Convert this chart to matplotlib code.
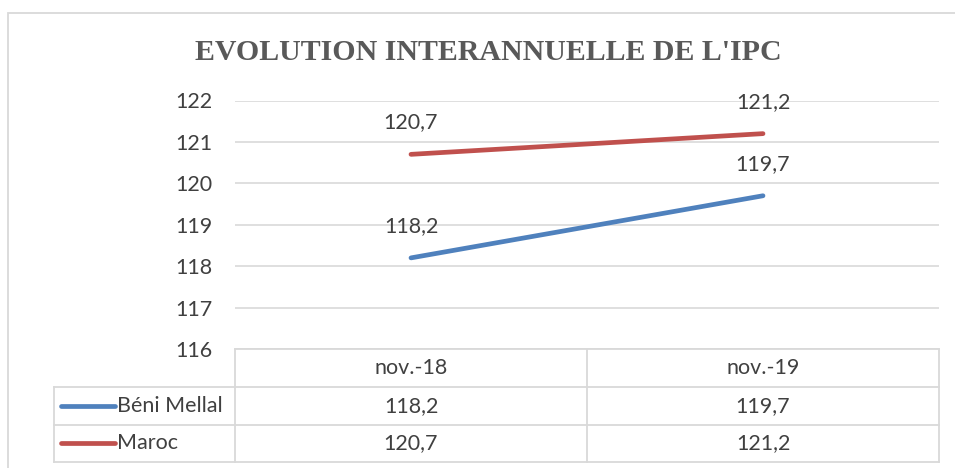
import matplotlib.pyplot as plt
from matplotlib.lines import Line2D
from matplotlib.patches import Rectangle

categories = ['nov.-18', 'nov.-19']
beni_mellal = [118.2, 119.7]
maroc = [120.7, 121.2]
series_names = ['Béni Mellal', 'Maroc']
yticks = [116, 117, 118, 119, 120, 121, 122]

blue = '#4F81BD'
red = '#C0504D'
grid = '#D9D9D9'
txt = '#404040'
fs = 15.5

plt.rcParams['font.family'] = ['Lato', 'DejaVu Sans']

W, H = 955, 468
fig = plt.figure(figsize=(W / 100, H / 100), dpi=100)

# outer chart frame
fig.patches.append(Rectangle((8 / W, -0.1), 1.1, 1 - 13.5 / H + 0.1, transform=fig.transFigure,
                             fill=False, edgecolor=grid, lw=1.3))

fig.text(488 / W, 1 - 52 / H, "EVOLUTION INTERANNUELLE DE L'IPC", ha='center', va='center',
         fontsize=21.5, fontweight='bold', color='#595959', family='Liberation Serif')

ax = fig.add_axes([235 / W, 1 - 349 / H, (939 - 235) / W, (349 - 100.5) / H])
x = list(range(len(categories)))
ax.set_xlim(-0.5, len(categories) - 0.5)
ax.set_ylim(116, 122)
ax.set_yticks(yticks)
ax.set_yticklabels([str(t) for t in yticks], fontsize=fs, color=txt)
ax.set_xticks([])
ax.tick_params(axis='y', length=0, pad=16.5)
for s in ax.spines.values():
    s.set_visible(False)
ax.grid(axis='y', color=grid, lw=1.2)
ax.set_axisbelow(True)

series = [beni_mellal, maroc]
colors = [blue, red]
for vals, c in zip(series, colors):
    ax.plot(x, vals, color=c, lw=3.4, solid_capstyle='round', zorder=3)
    for xi, v in zip(x, vals):
        ax.annotate(f'{v:.1f}'.replace('.', ','), (xi, v), xytext=(0, 23), textcoords='offset points',
                    ha='center', va='center', fontsize=fs, color=txt)

# data table below the plot (axes coordinates)
h_px = 349 - 100.5
w_px = 939 - 235
def ay(py):
    return -(py - 349) / h_px
def ax_(px):
    return (px - 235) / w_px

kw = dict(transform=ax.transAxes, clip_on=False, color=grid, lw=1.3)
rows_y = [349, 387, 424.5, 462]
left = 54
# horizontal lines
ax.add_line(Line2D([0, 1], [ay(rows_y[0])] * 2, **kw))
for py in rows_y[1:]:
    ax.add_line(Line2D([ax_(left), 1], [ay(py)] * 2, **kw))
# vertical lines
ax.add_line(Line2D([ax_(left)] * 2, [ay(rows_y[1]), ay(rows_y[3])], **kw))
for i in range(len(categories) + 1):
    xa = i / len(categories)
    ax.add_line(Line2D([xa, xa], [ay(rows_y[0]), ay(rows_y[3])], **kw))

# header
for i, cat in enumerate(categories):
    ax.text((i + 0.5) / len(categories), ay((rows_y[0] + rows_y[1]) / 2), cat, transform=ax.transAxes,
            ha='center', va='center', fontsize=fs, color=txt)
# rows
for r, (name, vals, c) in enumerate(zip(series_names, series, colors)):
    yc = ay((rows_y[r + 1] + rows_y[r + 2]) / 2)
    ax.add_line(Line2D([ax_(61), ax_(115)], [yc, yc], transform=ax.transAxes, clip_on=False,
                       color=c, lw=3.4, solid_capstyle='round'))
    ax.text(ax_(117), yc, name, transform=ax.transAxes, ha='left', va='center', fontsize=fs, color=txt)
    for i, v in enumerate(vals):
        ax.text((i + 0.5) / len(categories), yc, f'{v:.1f}'.replace('.', ','), transform=ax.transAxes,
                ha='center', va='center', fontsize=fs, color=txt)

fig.savefig('out.png', dpi=100)
